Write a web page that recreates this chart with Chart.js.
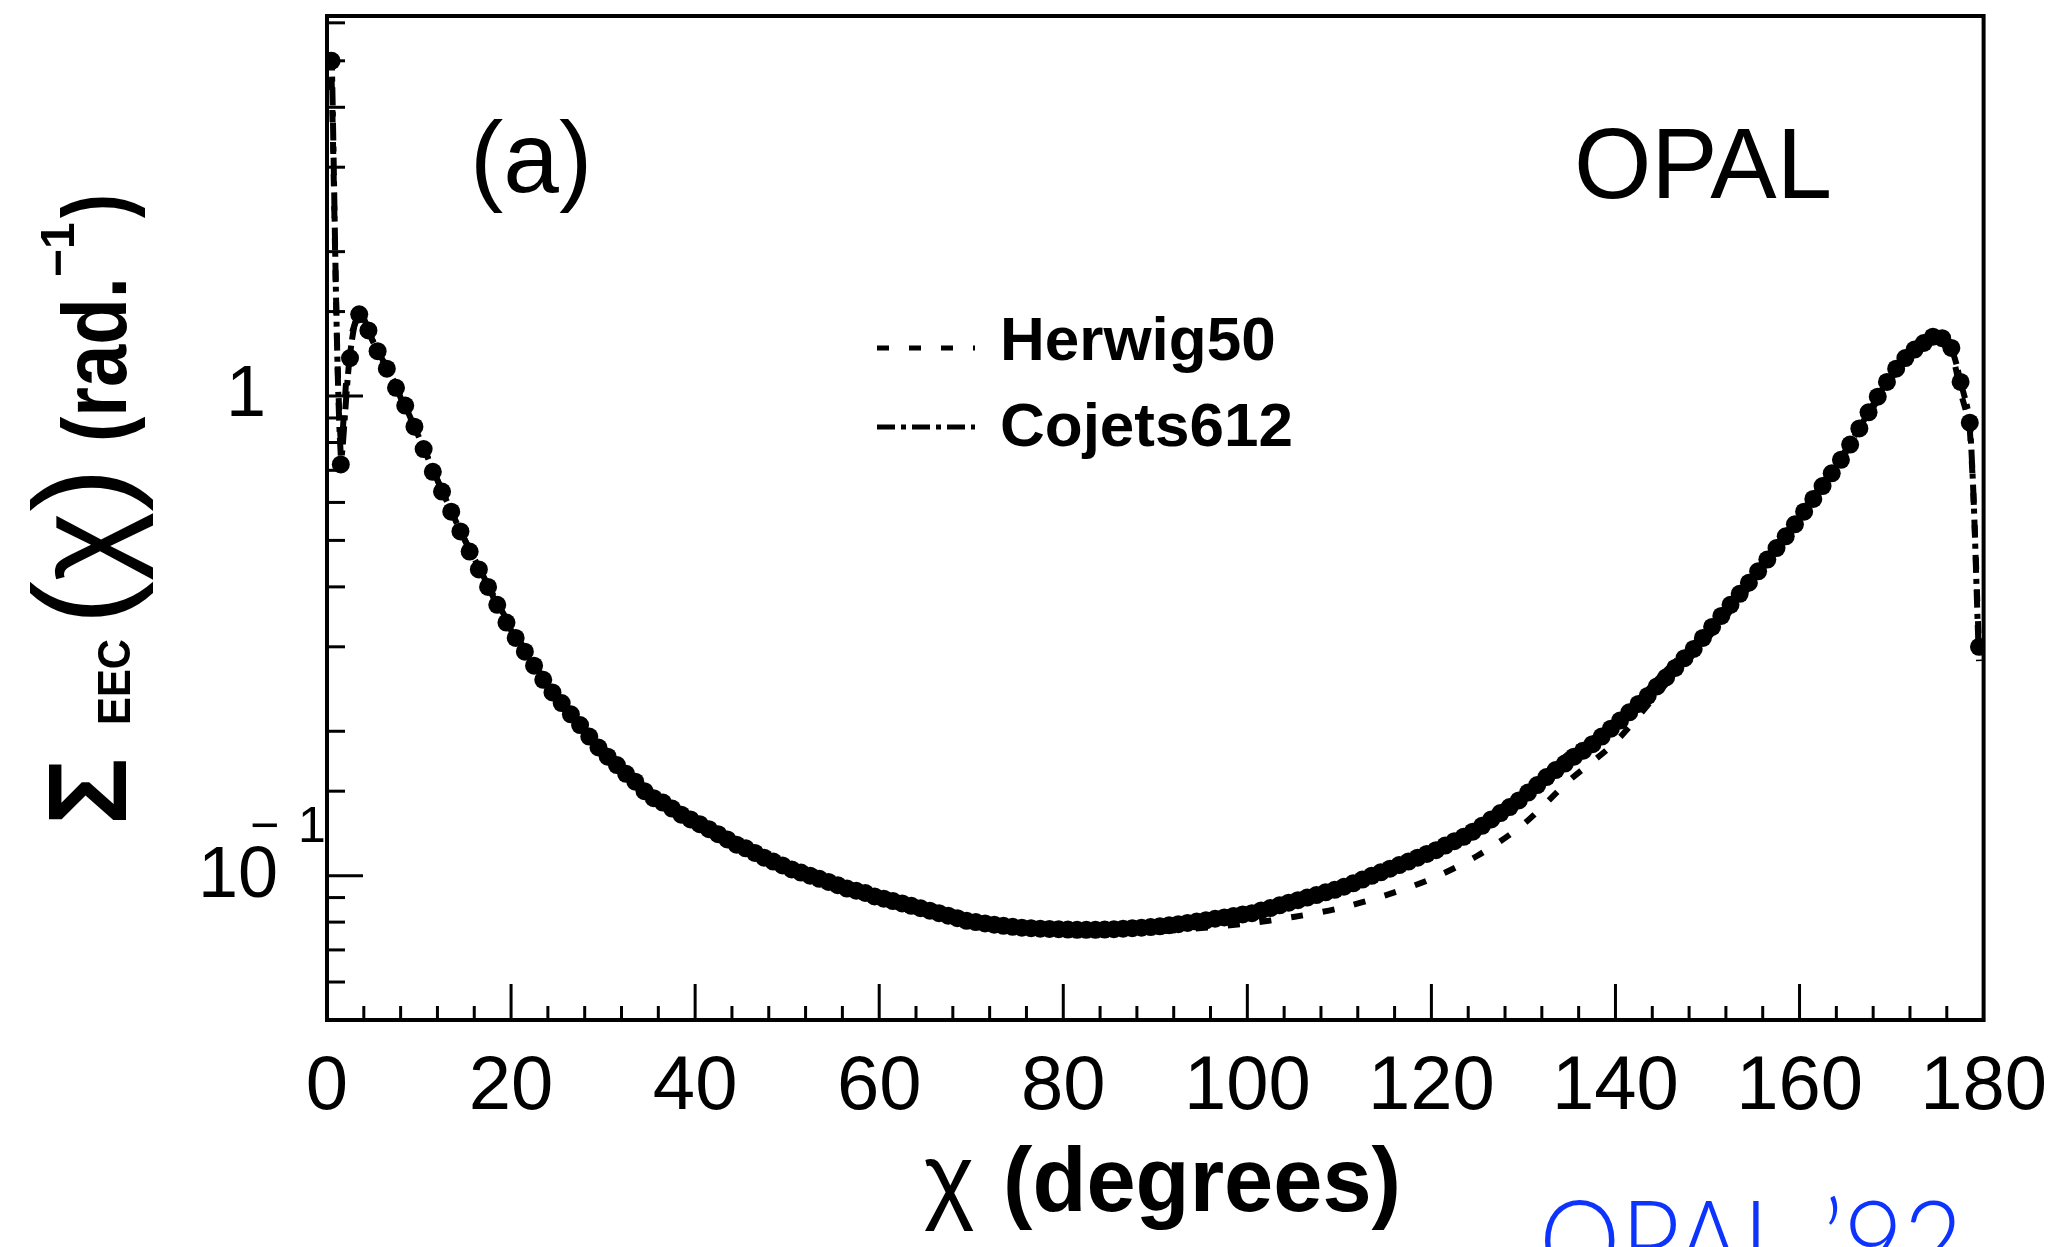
<!DOCTYPE html>
<html>
<head>
<script src="https://cdn.jsdelivr.net/npm/chart.js@4.4.0/dist/chart.umd.min.js"></script>
<style>
  body { margin: 0; background: #fff; }
  canvas { display: block; }
</style>
</head>
<body>
<canvas id="eecChart" width="2069" height="1247"></canvas>

<script>
// measured energy-energy correlation, one point per 1 degree bin
const dataChi = [
  0.5, 1.5, 2.5, 3.5, 4.5, 5.5, 6.5, 7.5, 8.5, 9.5,
  10.5, 11.5, 12.5, 13.5, 14.5, 15.5, 16.5, 17.5, 18.5, 19.5,
  20.5, 21.5, 22.5, 23.5, 24.5, 25.5, 26.5, 27.5, 28.5, 29.5,
  30.5, 31.5, 32.5, 33.5, 34.5, 35.5, 36.5, 37.5, 38.5, 39.5,
  40.5, 41.5, 42.5, 43.5, 44.5, 45.5, 46.5, 47.5, 48.5, 49.5,
  50.5, 51.5, 52.5, 53.5, 54.5, 55.5, 56.5, 57.5, 58.5, 59.5,
  60.5, 61.5, 62.5, 63.5, 64.5, 65.5, 66.5, 67.5, 68.5, 69.5,
  70.5, 71.5, 72.5, 73.5, 74.5, 75.5, 76.5, 77.5, 78.5, 79.5,
  80.5, 81.5, 82.5, 83.5, 84.5, 85.5, 86.5, 87.5, 88.5, 89.5,
  90.5, 91.5, 92.5, 93.5, 94.5, 95.5, 96.5, 97.5, 98.5, 99.5,
  100.5, 101.5, 102.5, 103.5, 104.5, 105.5, 106.5, 107.5, 108.5, 109.5,
  110.5, 111.5, 112.5, 113.5, 114.5, 115.5, 116.5, 117.5, 118.5, 119.5,
  120.5, 121.5, 122.5, 123.5, 124.5, 125.5, 126.5, 127.5, 128.5, 129.5,
  130.5, 131.5, 132.5, 133.5, 134.5, 135.5, 136.5, 137.5, 138.5, 139.5,
  140.5, 141.5, 142.5, 143.5, 144.5, 145.5, 146.5, 147.5, 148.5, 149.5,
  150.5, 151.5, 152.5, 153.5, 154.5, 155.5, 156.5, 157.5, 158.5, 159.5,
  160.5, 161.5, 162.5, 163.5, 164.5, 165.5, 166.5, 167.5, 168.5, 169.5,
  170.5, 171.5, 172.5, 173.5, 174.5, 175.5, 176.5, 177.5, 178.5, 179.5
];
const dataEEC = [
  5.0, 0.72, 1.20, 1.48, 1.37, 1.24, 1.14, 1.04, 0.955, 0.863,
  0.775, 0.695, 0.632, 0.574, 0.522, 0.474, 0.435, 0.400, 0.367, 0.337,
  0.313, 0.293, 0.274, 0.256, 0.241, 0.229, 0.217, 0.206, 0.195, 0.185,
  0.177, 0.170, 0.163, 0.157, 0.150, 0.145, 0.142, 0.138, 0.134, 0.131,
  0.128, 0.125, 0.122, 0.119, 0.116, 0.114, 0.1115, 0.109, 0.107, 0.105,
  0.103, 0.1015, 0.100, 0.0985, 0.097, 0.0955, 0.094, 0.093, 0.092, 0.0905,
  0.0895, 0.0885, 0.0875, 0.0865, 0.0855, 0.0845, 0.0835, 0.0825, 0.0815, 0.0805,
  0.0800, 0.0795, 0.0790, 0.0786, 0.0782, 0.0779, 0.0777, 0.0775, 0.0774, 0.0773,
  0.0772, 0.0771, 0.0771, 0.0771, 0.0772, 0.0773, 0.0775, 0.0777, 0.0779, 0.0781,
  0.0784, 0.0788, 0.0792, 0.0797, 0.0802, 0.0807, 0.0813, 0.0818, 0.0824, 0.0830,
  0.0835, 0.0846, 0.0856, 0.0867, 0.0878, 0.0889, 0.0900, 0.0911, 0.0923, 0.0934,
  0.0948, 0.0964, 0.0981, 0.0999, 0.1016, 0.1034, 0.1052, 0.1070, 0.1090, 0.1110,
  0.1130, 0.1155, 0.1180, 0.1205, 0.1235, 0.127, 0.131, 0.135, 0.139, 0.1435,
  0.149, 0.1545, 0.1605, 0.166, 0.1713, 0.177, 0.1822, 0.188, 0.195, 0.2025,
  0.2105, 0.219, 0.228, 0.237, 0.248, 0.259, 0.271, 0.284, 0.297, 0.313,
  0.330, 0.348, 0.367, 0.387, 0.408, 0.431, 0.456, 0.482, 0.510, 0.540,
  0.574, 0.610, 0.649, 0.690, 0.736, 0.792, 0.856, 0.925, 0.997, 1.07,
  1.14, 1.20, 1.25, 1.29, 1.33, 1.32, 1.26, 1.07, 0.88, 0.30
];

// Monte Carlo curves
const modelChi = [
  0.5, 1.5, 2.5, 3.5, 5, 7.5, 10, 12.5, 15, 20,
  25, 30, 35, 40, 50, 60, 70, 80, 90, 100,
  105, 110, 115, 120, 125, 130, 135, 140, 145, 150,
  155, 160, 165, 170, 172.5, 175, 176.5, 177.5, 178.5, 179.5
];
const herwig50 = [
  4.6, 0.80, 1.30, 1.45, 1.30, 1.04, 0.82, 0.635, 0.50, 0.325,
  0.232, 0.181, 0.148, 0.129, 0.104, 0.0895, 0.0800, 0.0768, 0.0765, 0.0795,
  0.0820, 0.0855, 0.0910, 0.0985, 0.110, 0.128, 0.158, 0.190, 0.245, 0.312,
  0.410, 0.555, 0.760, 1.09, 1.24, 1.30, 1.22, 1.02, 0.85, 0.30
];
const cojets612 = [
  5.2, 0.75, 1.22, 1.50, 1.30, 1.05, 0.82, 0.635, 0.50, 0.33,
  0.236, 0.182, 0.147, 0.129, 0.1045, 0.0895, 0.0805, 0.0775, 0.0780, 0.0830,
  0.0885, 0.0945, 0.1030, 0.1120, 0.125, 0.147, 0.180, 0.207, 0.262, 0.325,
  0.423, 0.565, 0.770, 1.11, 1.27, 1.33, 1.25, 1.07, 0.88, 0.28
];

const xTickLabels = [0, 20, 40, 60, 80, 100, 120, 140, 160, 180];
const modelNames = ["Herwig50", "Cojets612"];
const herwigDash = [12, 20];
const cojetsDash = [18, 6, 5, 6];

function toPoints(xs, ys) {
  return xs.map((x, i) => ({ x: x, y: ys[i] }));
}

const FONT = "'Liberation Sans', Arial, sans-serif";

// box, inward ticks and all the labels
const framePlugin = {
  id: "frame",
  afterDraw(chart) {
    const ctx = chart.ctx;
    const a = chart.chartArea;
    const x = chart.scales.x;
    const y = chart.scales.y;
    ctx.save();
    ctx.strokeStyle = "#000";
    ctx.fillStyle = "#000";

    ctx.lineWidth = 4;
    ctx.strokeRect(a.left, a.top, a.right - a.left, a.bottom - a.top);

    ctx.lineWidth = 3;
    x.ticks.forEach(t => {
      const v = Math.round(t.value);
      if (v <= 0 || v >= 180) return;
      const px = x.getPixelForValue(v);
      const len = v % 20 === 0 ? 36 : 14;
      ctx.beginPath();
      ctx.moveTo(px, a.bottom);
      ctx.lineTo(px, a.bottom - len);
      ctx.stroke();
    });
    y.ticks.forEach(t => {
      if (t.value <= y.min || t.value >= y.max) return;
      const py = y.getPixelForValue(t.value);
      const lg = Math.log10(t.value);
      const len = Math.abs(lg - Math.round(lg)) < 1e-6 ? 36 : 18;
      ctx.beginPath();
      ctx.moveTo(a.left, py);
      ctx.lineTo(a.left + len, py);
      ctx.stroke();
    });

    // y tick labels
    ctx.textBaseline = "middle";
    ctx.textAlign = "right";
    ctx.font = "72px " + FONT;
    ctx.fillText("1", 266, y.getPixelForValue(1));
    ctx.fillText("10", 278, y.getPixelForValue(0.1) + 2);
    ctx.textAlign = "left";
    ctx.textBaseline = "alphabetic";
    ctx.font = "50px " + FONT;
    ctx.fillText("\u2212", 250, y.getPixelForValue(0.1) - 34);
    ctx.fillText("1", 298, y.getPixelForValue(0.1) - 34);

    // panel labels
    ctx.font = "100px " + FONT;
    ctx.fillText("(a)", 470, 192, 145);
    ctx.fillText("OPAL", 1574, 198, 258);

    // legend
    const legendRows = [
      { y: 348, dash: herwigDash, name: modelNames[0], base: 360 },
      { y: 427, dash: cojetsDash, name: modelNames[1], base: 446 }
    ];
    legendRows.forEach(r => {
      ctx.lineWidth = 5;
      ctx.setLineDash(r.dash);
      ctx.beginPath();
      ctx.moveTo(877, r.y);
      ctx.lineTo(975, r.y);
      ctx.stroke();
      ctx.setLineDash([]);
      ctx.font = "bold 62px " + FONT;
      ctx.fillText(r.name, 1000, r.base);
    });

    // x axis title
    ctx.font = "96px " + FONT;
    ctx.fillText("\u03c7", 924, 1211, 66);
    ctx.font = "bold 90px " + FONT;
    ctx.fillText("(degrees)", 1003, 1211, 398);

    // y axis title, rotated
    ctx.save();
    ctx.translate(126, 825);
    ctx.rotate(-Math.PI / 2);
    ctx.font = "bold 112px " + FONT;
    ctx.fillText("\u03a3", 0, 0, 93);
    ctx.font = "bold 46px " + FONT;
    ctx.fillText("EEC", 100, 4, 86);
    ctx.font = "132px " + FONT;
    ctx.fillText("(\u03c7)", 200, 0, 172);
    ctx.font = "bold 90px " + FONT;
    ctx.fillText("(rad.", 383, 0, 165);
    ctx.font = "bold 48px " + FONT;
    ctx.fillText("\u22121", 548, -52, 58);
    ctx.font = "bold 90px " + FONT;
    ctx.fillText(")", 607, 0, 24);
    ctx.restore();

    // blue tag in the corner
    ctx.fillStyle = "rgb(13, 51, 255)";
    ctx.font = "300 112px Lato, 'Open Sans', sans-serif";
    ctx.fillText("OPAL \u201992", 1539, 1281, 424);

    ctx.restore();
  }
};

new Chart("eecChart", {
  type: "scatter",
  data: {
    datasets: [
      {
        label: "OPAL",
        data: toPoints(dataChi, dataEEC),
        pointStyle: "circle",
        pointRadius: 9,
        backgroundColor: "#000",
        borderWidth: 0,
        showLine: false
      },
      {
        label: modelNames[0],
        type: "line",
        data: toPoints(modelChi, herwig50),
        borderColor: "#000",
        borderWidth: 6,
        borderDash: herwigDash,
        pointRadius: 0,
        fill: false,
        tension: 0.3
      },
      {
        label: modelNames[1],
        type: "line",
        data: toPoints(modelChi, cojets612),
        borderColor: "#000",
        borderWidth: 6,
        borderDash: cojetsDash,
        pointRadius: 0,
        fill: false,
        tension: 0.3
      }
    ]
  },
  options: {
    responsive: false,
    animation: false,
    events: [],
    layout: { padding: { top: 16, right: 79, left: 0, bottom: 0 } },
    plugins: {
      legend: { display: false },
      tooltip: { enabled: false }
    },
    scales: {
      x: {
        type: "linear",
        min: 0,
        max: 180,
        afterFit(s) { s.height = 227; },
        border: { display: false },
        grid: { display: false, drawTicks: false },
        ticks: {
          stepSize: 4,
          autoSkip: false,
          maxRotation: 0,
          padding: 22,
          color: "#000",
          font: { family: FONT, size: 76 },
          callback: v => xTickLabels.includes(Math.round(v)) ? String(Math.round(v)) : ""
        }
      },
      y: {
        type: "logarithmic",
        min: 0.05,
        max: 6.2,
        afterFit(s) { s.width = 327; },
        border: { display: false },
        grid: { display: false, drawTicks: false },
        ticks: { display: false, autoSkip: false }
      }
    }
  },
  plugins: [framePlugin]
});
</script>
</body>
</html>
